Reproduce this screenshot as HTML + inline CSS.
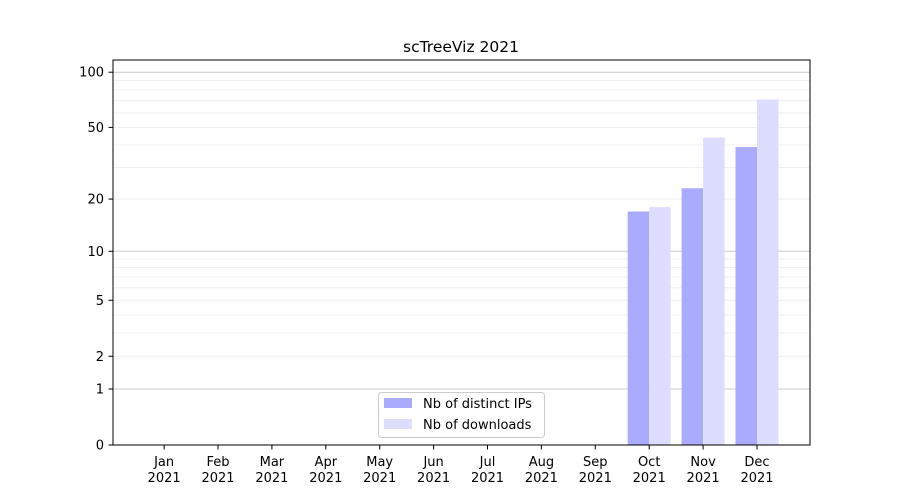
<!DOCTYPE html>
<html><head><meta charset="utf-8"><style>body{margin:0;background:#fff}svg{display:block}text{font-family:"DejaVu Sans","Liberation Sans",sans-serif;font-size:13px;fill:#000}</style></head><body>
<svg width="900" height="500" xmlns="http://www.w3.org/2000/svg">
<rect width="900" height="500" fill="#fff"/>
<g id="grid"></g>
<g id="bars"></g>
<rect x="113" y="60" width="697" height="385" fill="none" stroke="#000" stroke-width="1"/>
<g id="ticks"></g>
<text x="461" y="52" text-anchor="middle" style="font-size:15.5px">scTreeViz 2021</text>
<rect x="378.5" y="392.5" width="166" height="45" rx="3" fill="#fff" fill-opacity="0.8" stroke="#ccc"/>
<rect x="384" y="398" width="28" height="10" fill="#aaaaff"/>
<rect x="384" y="419" width="28" height="10" fill="#ddddff"/>
<text x="423" y="408">Nb of distinct IPs</text>
<text x="423" y="429">Nb of downloads</text>
</svg>
<script>
const ns="http://www.w3.org/2000/svg";
function Y(v){return 445-186*Math.log10(1+v);}
function el(p,t,a,txt){const e=document.createElementNS(ns,t);for(const k in a)e.setAttribute(k,a[k]);if(txt!==undefined)e.textContent=txt;document.getElementById(p).appendChild(e);}
// minor grid
for(const d of [1,10]){for(let m=2;m<=9;m++){const y=Y(m*d);if(y>60)el('grid','line',{x1:113,x2:810,y1:y,y2:y,stroke:'#ebebeb','stroke-width':0.8});}}
for(const v of [1,10,100]){const y=Y(v);el('grid','line',{x1:113,x2:810,y1:y,y2:y,stroke:'#cccccc','stroke-width':1});}
const months=['Jan','Feb','Mar','Apr','May','Jun','Jul','Aug','Sep','Oct','Nov','Dec'];
const dist=[0,0,0,0,0,0,0,0,0,17,23,39],dl=[0,0,0,0,0,0,0,0,0,18,44,71];
months.forEach((m,i)=>{const x=757-(11-i)*53.9;
 if(dist[i]>0){el('bars','rect',{x:x-21.5,y:Y(dist[i]),width:21.5,height:445-Y(dist[i]),fill:'#aaaaff'});
 el('bars','rect',{x:x,y:Y(dl[i]),width:21.5,height:445-Y(dl[i]),fill:'#ddddff'});}
 el('ticks','line',{x1:x,x2:x,y1:445,y2:449.5,stroke:'#000'});
 el('ticks','text',{x:x,y:466,'text-anchor':'middle'},m);
 el('ticks','text',{x:x,y:482,'text-anchor':'middle'},'2021');
});
[0,1,2,5,10,20,50,100].forEach(v=>{const y=Y(v);el('ticks','line',{x1:108.5,x2:113,y1:y,y2:y,stroke:'#000'});el('ticks','text',{x:104,y:y+4.5,'text-anchor':'end'},String(v));});
</script>
</body></html>
